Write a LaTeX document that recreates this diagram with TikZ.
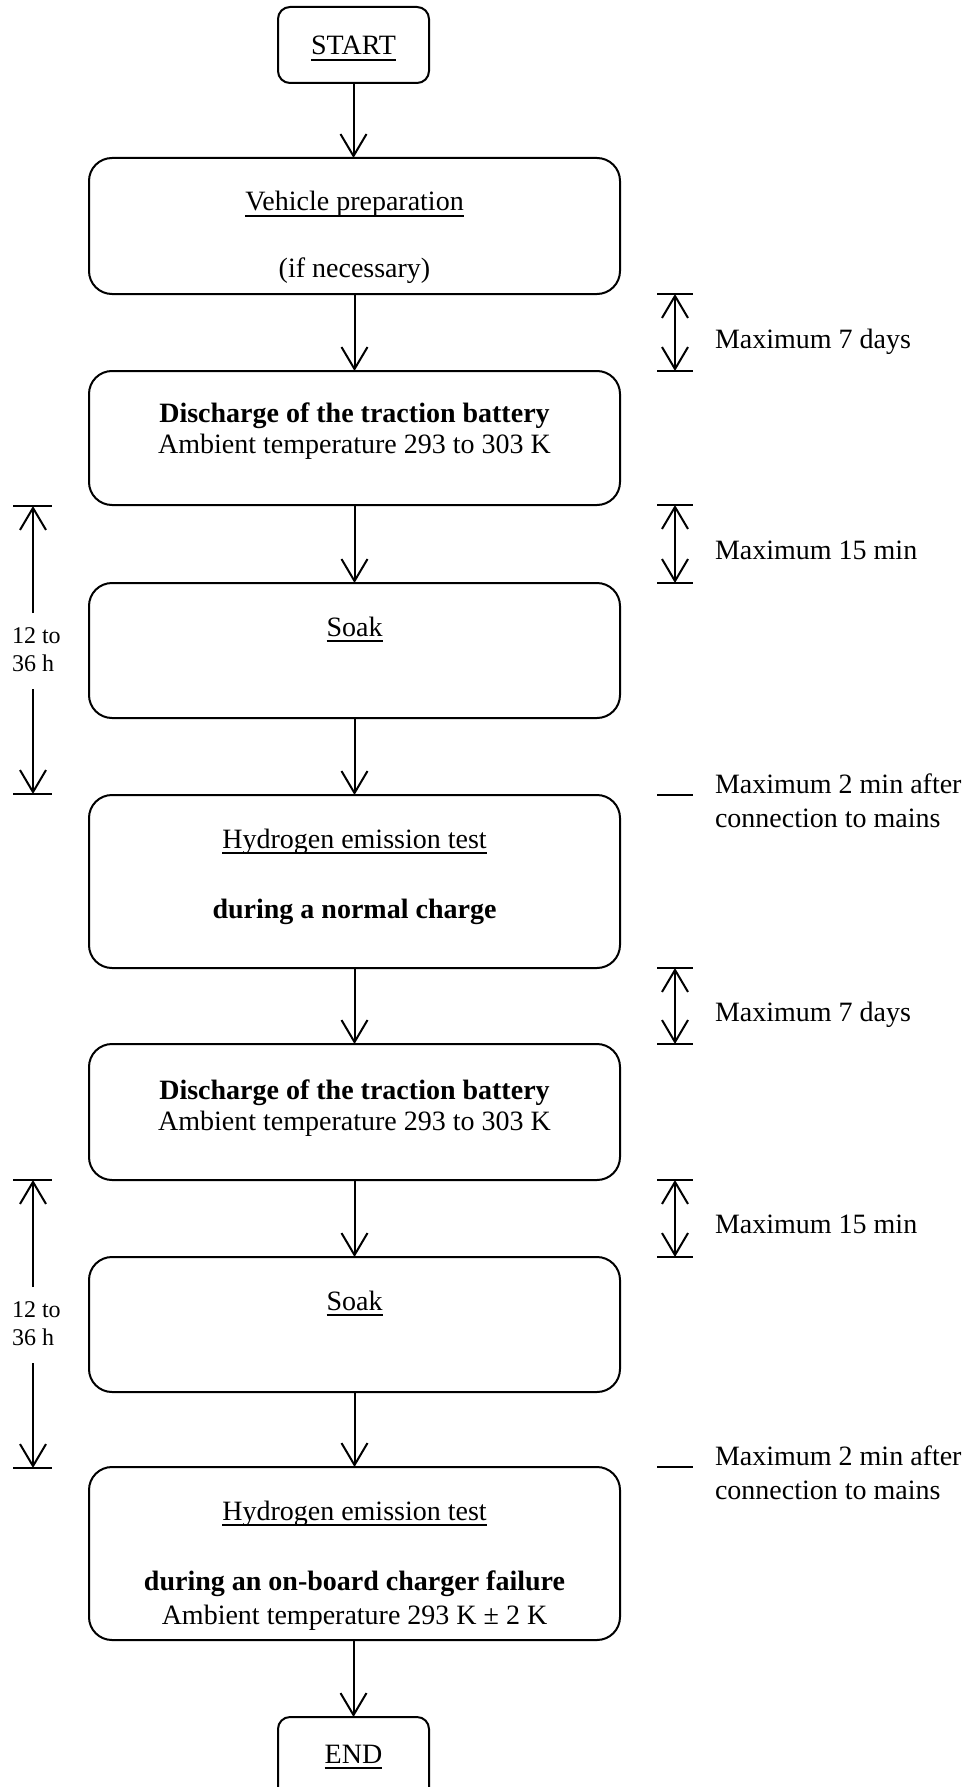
\documentclass[tikz,border=0pt]{standalone}
\usepackage{fontspec}
\setmainfont{Liberation Serif}
\usetikzlibrary{arrows.meta}
\newcommand\myul[1]{\setbox0\hbox{#1}\rlap{\rule[-3pt]{\wd0}{1pt}}\box0}
\begin{document}
\begin{tikzpicture}[x=0.5pt,y=-0.5pt,
  bigbox/.style={draw, line width=1pt, rounded corners=11.5pt, minimum width=265.5pt, inner sep=0pt, outer sep=0pt},
  smallbox/.style={draw, line width=1pt, rounded corners=6pt, minimum width=75.5pt, inner sep=0pt, outer sep=0pt},
  txt/.style={inner sep=0pt, outer sep=0pt, font=\fontsize{14}{17}\selectfont},
  smalltxt/.style={inner sep=0pt, outer sep=0pt, font=\fontsize{12}{14}\selectfont},
  arr/.style={line width=1pt, -{Straight Barb[length=11pt,width=13pt]}},
  dbl/.style={line width=1pt, {Straight Barb[length=11pt,width=13pt]}-{Straight Barb[length=11pt,width=13pt]}},
  bar/.style={line width=1pt}]
\useasboundingbox (0,0) rectangle (976,1787);
\clip (0,0) rectangle (976,1787);

% boxes
\node[smallbox, minimum height=38pt] (start) at (353.5,45) {};
\node[bigbox, minimum height=68pt]   (b1) at (354.5,226) {};
\node[bigbox, minimum height=67pt]   (b2) at (354.5,438) {};
\node[bigbox, minimum height=67.5pt] (b3) at (354.5,650.5) {};
\node[bigbox, minimum height=86.5pt] (b4) at (354.5,881.5) {};
\node[bigbox, minimum height=68pt]   (b5) at (354.5,1112) {};
\node[bigbox, minimum height=67.5pt] (b6) at (354.5,1324.5) {};
\node[bigbox, minimum height=86.5pt] (b7) at (354.5,1553.5) {};
\node[smallbox, minimum height=41.5pt] (end) at (353.5,1758.5) {};

% texts in boxes
\node[txt, anchor=base] (tstart) at (353.5,55) {\myul{START}};
\node[txt, anchor=base] (t1a) at (354.5,211) {\myul{Vehicle preparation}};
\node[txt, anchor=base] (t1b) at (354.5,278) {(if necessary)};
\node[txt, anchor=base] (t2a) at (354.5,422) {\bfseries Discharge of the traction battery};
\node[txt, anchor=base] (t2b) at (354.5,453) {Ambient temperature 293 to 303 K};
\node[txt, anchor=base] (t3a) at (354.5,636) {\myul{Soak}};
\node[txt, anchor=base] (t4a) at (354.5,848) {\myul{Hydrogen emission test}};
\node[txt, anchor=base] (t4b) at (354.5,918) {\bfseries during a normal charge};
\node[txt, anchor=base] (t5a) at (354.5,1099) {\bfseries Discharge of the traction battery};
\node[txt, anchor=base] (t5b) at (354.5,1130) {Ambient temperature 293 to 303 K};
\node[txt, anchor=base] (t6a) at (354.5,1310) {\myul{Soak}};
\node[txt, anchor=base] (t7a) at (354.5,1520) {\myul{Hydrogen emission test}};
\node[txt, anchor=base] (t7b) at (354.5,1590) {\bfseries during an on-board charger failure};
\node[txt, anchor=base] (t7c) at (354.5,1624) {Ambient temperature 293 K ± 2 K};
\node[txt, anchor=base] (tend) at (353.5,1763) {\myul{END}};

% main flow
\draw[arr] (start.south) -- (start.south |- b1.north);
\draw[arr] (b1.south) -- (b2.north);
\draw[arr] (b2.south) -- (b3.north);
\draw[arr] (b3.south) -- (b4.north);
\draw[arr] (b4.south) -- (b5.north);
\draw[arr] (b5.south) -- (b6.north);
\draw[arr] (b6.south) -- (b7.north);
\draw[arr] (b7.south -| end.north) -- (end.north);

% right markers
\coordinate (r1a) at (675,294);  \coordinate (r1b) at (675,371);
\coordinate (r2a) at (675,505);  \coordinate (r2b) at (675,583);
\coordinate (r3a) at (675,968);  \coordinate (r3b) at (675,1044);
\coordinate (r4a) at (675,1180); \coordinate (r4b) at (675,1257);
\foreach \a/\b in {r1a/r1b, r2a/r2b, r3a/r3b, r4a/r4b}{
  \draw[bar] ([xshift=-9pt]\a) -- ([xshift=9pt]\a);
  \draw[bar] ([xshift=-9pt]\b) -- ([xshift=9pt]\b);
  \draw[dbl] (\a) -- (\b);
}
\coordinate (l1) at (675,795);
\coordinate (l2) at (675,1467);
\draw[bar] ([xshift=-9pt]l1) -- ([xshift=9pt]l1);
\draw[bar] ([xshift=-9pt]l2) -- ([xshift=9pt]l2);

\node[txt, anchor=base west] (m1) at (715,348) {Maximum 7 days};
\node[txt, anchor=base west] (m2) at (715,559) {Maximum 15 min};
\node[txt, anchor=base west] (m3a) at (715,793) {Maximum 2 min after};
\node[txt, anchor=base west] (m3b) at (715,827) {connection to mains};
\node[txt, anchor=base west] (m4) at (715,1021) {Maximum 7 days};
\node[txt, anchor=base west] (m5) at (715,1233) {Maximum 15 min};
\node[txt, anchor=base west] (m6a) at (715,1465) {Maximum 2 min after};
\node[txt, anchor=base west] (m6b) at (715,1499) {connection to mains};

% left markers
\foreach \t/\n in {506/p, 1180/q}{
  \coordinate (\n top) at (33,\t);
  \coordinate (\n g1) at (33,\t+107);
  \coordinate (\n g2) at (33,\t+183);
  \coordinate (\n bot) at (33,\t+288);
  \draw[bar] ([xshift=-10pt]\n top) -- ([xshift=9.5pt]\n top);
  \draw[bar] ([xshift=-10pt]\n bot) -- ([xshift=9.5pt]\n bot);
  \draw[arr] (\n g1) -- (\n top);
  \draw[arr] (\n g2) -- (\n bot);
  \node[smalltxt, anchor=base west] (\n l1) at (12,\t+137) {12 to};
  \node[smalltxt, anchor=base west] (\n l2) at (12,\t+165) {36 h};
}
\end{tikzpicture}
\end{document}
